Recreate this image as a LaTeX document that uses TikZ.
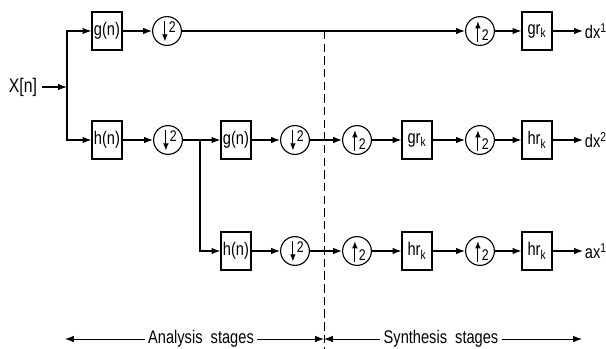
\documentclass[tikz,border=0pt]{standalone}
\usepackage{fontspec}
\setmainfont[FakeStretch=0.8]{Liberation Sans}
\usetikzlibrary{arrows.meta}

\tikzset{
  blk/.style={rectangle,draw=black,thick,minimum width=0.75cm,minimum height=0.95cm,inner sep=1pt},
  samp/.style={circle,draw=black,thick,minimum size=0.72cm,inner sep=0pt},
  dn/.style={samp,path picture={
    \draw[thick,-{Latex[length=1.8mm,width=1.4mm]}] ([shift={(-1.5pt,7pt)}]path picture bounding box.center) -- ([shift={(-1.5pt,-7.5pt)}]path picture bounding box.center);
    \node[font=\fontsize{11}{12}\selectfont,inner sep=0pt] at ([shift={(3.8pt,3pt)}]path picture bounding box.center) {2};}},
  up/.style={samp,path picture={
    \draw[thick,-{Latex[length=1.8mm,width=1.4mm]}] ([shift={(-1.5pt,-7.5pt)}]path picture bounding box.center) -- ([shift={(-1.5pt,7pt)}]path picture bounding box.center);
    \node[font=\fontsize{11}{12}\selectfont,inner sep=0pt] at ([shift={(3.8pt,-3pt)}]path picture bounding box.center) {2};}},
  outlbl/.style={anchor=west,inner sep=1pt}
}

\begin{document}
\begin{tikzpicture}[x=0.025cm,y=-0.025cm,>={Latex[length=2.2mm,width=1.6mm]},thick,font=\fontsize{13}{15}\selectfont]
\useasboundingbox (0,0) rectangle (606,349);

% input and first split
\node[font=\fontsize{14}{16}\selectfont] (xin) at (23,87) {X[n]};
\coordinate (split) at (67,87);

% top branch
\node[blk] (g1) at (107,31) {g(n)};
\node[dn] (d1) at (167,31) {};
\node[up] (u1) at (480,31) {};
\node[blk] (gr1) at (537,31) {gr\textsubscript{k}};
\node[outlbl] (dx1) at (583,31) {dx\textsuperscript{1}};

% middle branch
\node[blk] (h1) at (107,140) {h(n)};
\node[dn] (d2) at (168,140) {};
\coordinate (jn) at (200,140);
\node[blk] (g2) at (236,140) {g(n)};
\node[dn] (d3) at (295,140) {};
\node[up] (u2) at (357,140) {};
\node[blk] (gr2) at (417,140) {gr\textsubscript{k}};
\node[up] (u3) at (480,140) {};
\node[blk] (hr2) at (537,140) {hr\textsubscript{k}};
\node[outlbl] (dx2) at (583,140) {dx\textsuperscript{2}};

% bottom branch
\node[blk] (h2) at (236,251) {h(n)};
\node[dn] (d4) at (295,251) {};
\node[up] (u4) at (357,251) {};
\node[blk] (hr3) at (417,251) {hr\textsubscript{k}};
\node[up] (u5) at (480,251) {};
\node[blk] (hr4) at (537,251) {hr\textsubscript{k}};
\node[outlbl] (ax1) at (583,251) {ax\textsuperscript{1}};

% connections
\draw [->] (xin) -- (split);
\draw [->] (split) |- (g1);
\draw [->] (split) |- (h1);
\draw [->] (g1) -- (d1);
\draw [->] (d1) -- (u1);
\draw [->] (u1) -- (gr1);
\draw [->] (gr1) -- (dx1);

\draw [->] (h1) -- (d2);
\draw [->] (d2) -- (g2);
\draw [->] (jn) |- (h2);
\draw [->] (g2) -- (d3);
\draw [->] (d3) -- (u2);
\draw [->] (u2) -- (gr2);
\draw [->] (gr2) -- (u3);
\draw [->] (u3) -- (hr2);
\draw [->] (hr2) -- (dx2);

\draw [->] (h2) -- (d4);
\draw [->] (d4) -- (u4);
\draw [->] (u4) -- (hr3);
\draw [->] (hr3) -- (u5);
\draw [->] (u5) -- (hr4);
\draw [->] (hr4) -- (ax1);

% stage divider
\coordinate (dtop) at (324,31);
\coordinate (dbot) at (324,349);
\draw [thin,dash pattern=on 6pt off 3pt] (dtop) -- (dbot);

% stage labels
\node[inner sep=2pt] (ana) at (201,339) {Analysis\ \ stages};
\node[inner sep=2pt] (syn) at (441,339) {Synthesis\ \ stages};
\coordinate (aleft) at (65,339);
\coordinate (mid) at (324,339);
\coordinate (sright) at (582,339);
\draw [semithick,->] (ana) -- (aleft);
\draw [semithick,->] (ana) -- (mid);
\draw [semithick,->] (syn) -- (mid);
\draw [semithick,->] (syn) -- (sright);

\end{tikzpicture}
\end{document}
